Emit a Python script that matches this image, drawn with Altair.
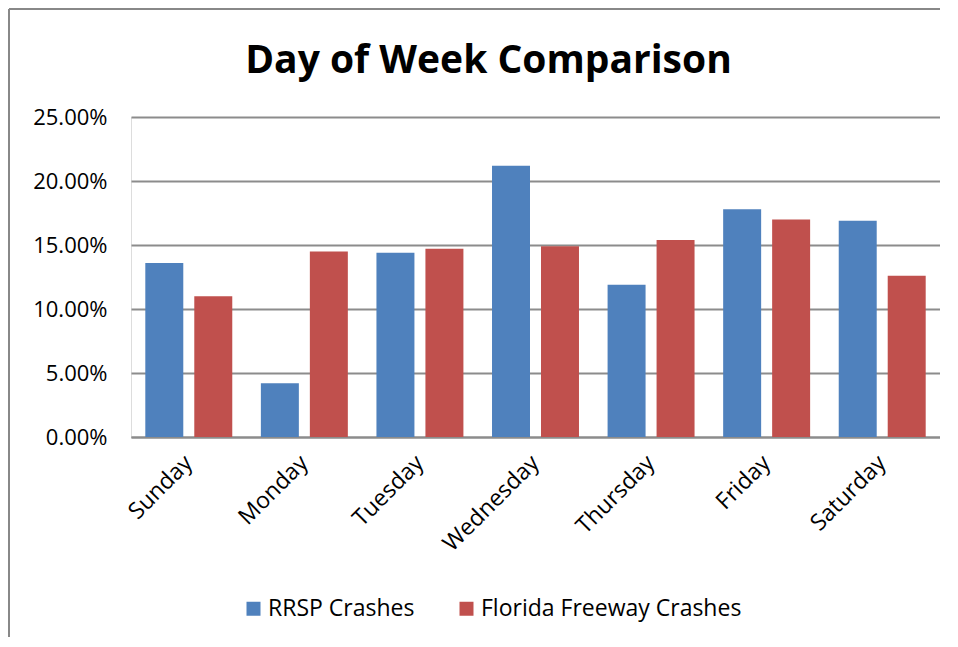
import altair as alt
import pandas as pd

days = ["Sunday", "Monday", "Tuesday", "Wednesday", "Thursday", "Friday", "Saturday"]
rrsp = [13.6, 4.2, 14.4, 21.2, 11.9, 17.8, 16.9]
florida = [11.0, 14.5, 14.7, 14.9, 15.4, 17.0, 12.6]
series = ["RRSP Crashes", "Florida Freeway Crashes"]
colors = ["#4F81BD", "#C0504D"]
y_ticks = [0, 5, 10, 15, 20, 25]

rows = []
for d, a, b in zip(days, rrsp, florida):
    rows.append({"day": d, "series": series[0], "value": a / 100})
    rows.append({"day": d, "series": series[1], "value": b / 100})
df = pd.DataFrame(rows)

FONT = "Open Sans"
GRID = "#8c8c8c"

bars = alt.Chart(df).mark_bar().encode(
    x=alt.X("day:N", sort=days,
            scale=alt.Scale(paddingInner=0, paddingOuter=0),
            axis=alt.Axis(title=None, labelAngle=-45, labelAlign="right",
                          labelBaseline="middle",
                          labelFontSize=23, labelFont=FONT, labelColor="#000",
                          ticks=False, domainColor=GRID, domainWidth=2,
                          labelPadding=22)),
    xOffset=alt.XOffset("series:N", sort=series,
                        scale=alt.Scale(paddingInner=0.2245, paddingOuter=0.292)),
    y=alt.Y("value:Q", scale=alt.Scale(domain=[0, 0.25], nice=False),
            axis=alt.Axis(values=[v / 100 for v in y_ticks], format=".2%", title=None,
                          domain=False, ticks=False, labelFontSize=22, labelFont=FONT,
                          labelColor="#000", labelPadding=24,
                          gridColor=GRID, gridWidth=2)),
    color=alt.Color("series:N", sort=series,
                    scale=alt.Scale(domain=series, range=colors),
                    legend=alt.Legend(title=None, orient="none", direction="horizontal",
                                      legendX=111, legendY=480,
                                      symbolType="square", symbolSize=196,
                                      symbolStrokeWidth=0, labelFontSize=23,
                                      labelFont=FONT, labelColor="#000", labelLimit=0,
                                      labelOffset=3, columnPadding=40)),
)

one = pd.DataFrame({"a": [0]})
border_left = alt.Chart(one).mark_rule(color="#888888", strokeWidth=2).encode(
    x=alt.value(-122), x2=alt.value(-122), y=alt.value(-108), y2=alt.value(520))
border_top = alt.Chart(one).mark_rule(color="#888888", strokeWidth=2).encode(
    x=alt.value(-122), x2=alt.value(809), y=alt.value(-108), y2=alt.value(-108))

chart = alt.layer(border_left, border_top, bars).properties(
    width=809, height=320,
    autosize=alt.AutoSizeParams(type="none"),
    padding={"left": 123, "top": 109, "right": 0, "bottom": 202},
    title=alt.TitleParams("Day of Week Comparison", font=FONT, fontSize=39,
                          fontWeight="bold", color="#000", anchor="middle",
                          dx=-47, baseline="alphabetic", offset=-104),
).configure_view(stroke=None).configure(background="white")

chart.save("out.html", embed_options={"renderer": "svg", "actions": False})
